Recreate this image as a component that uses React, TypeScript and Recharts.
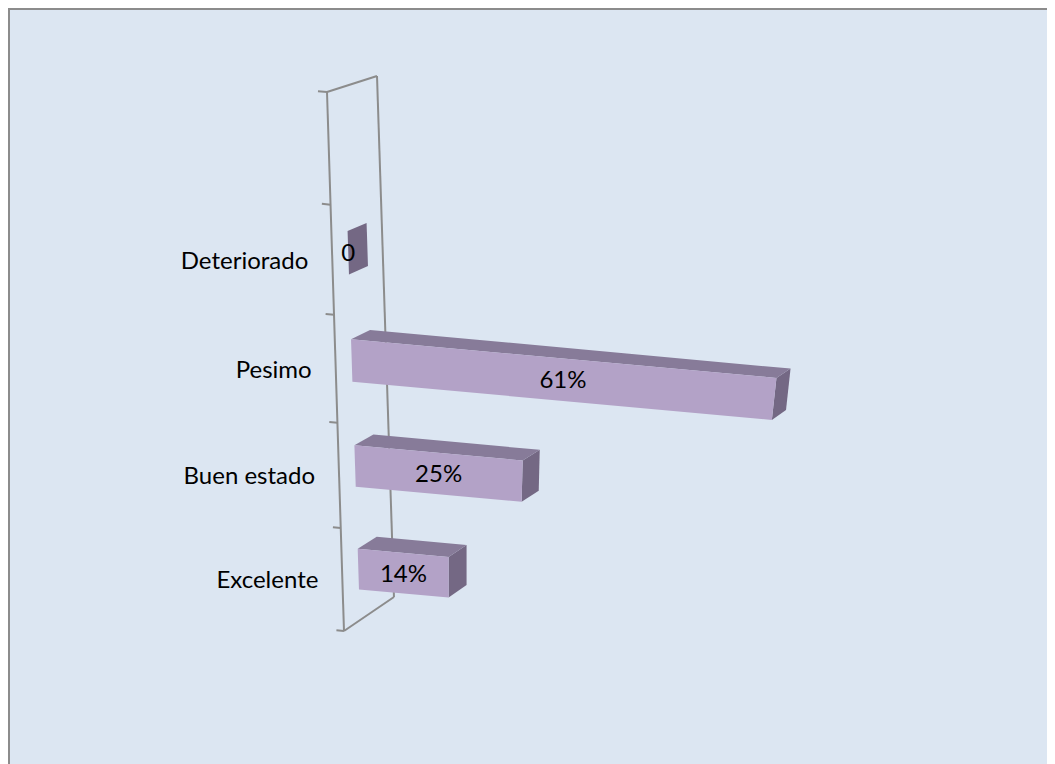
import { BarChart, Bar, XAxis, YAxis } from "recharts";

const categories = ["", "Deteriorado", "Pesimo", "Buen estado", "Excelente"];
const values: (number | null)[] = [null, 0, 61, 25, 14];
const valueLabels = ["", "0", "61%", "25%", "14%"];

const data = categories.map((name, i) => ({
  name,
  value: values[i],
  label: valueLabels[i],
}));

const W = 1045;
const H = 754;
const M = { top: 82, right: 118, bottom: 133, left: 0 };
const AXIS_W = 317;
const LEFT = M.left + AXIS_W;
const TOP = M.top;
const PH = H - M.top - M.bottom;

const FONT = "Lato, 'Noto Sans', sans-serif";
const FRONT = "#b3a2c7";
const TOPFACE = "#877b99";
const SIDE = "#746884";
const WALL = "#8c8c8c";

// flat chart coords -> skewed pseudo 3d view, z = depth (0 front edge of floor, 1 back)
function proj(fx: number, fy: number, z = 0): [number, number] {
  const t = (fy - TOP) / PH;
  const y0 = TOP + PH * t * (1 + 0.056 * (1 - t));
  const r = y0 - TOP;
  const u = (fx - LEFT) * (1 - 0.0003 * r);
  const dx = 50 * (1 - 0.0006 * Math.max(u, 0));
  return [
    LEFT + u + 0.0315 * r + z * dx,
    y0 + 0.09 * u + z * (-16 - 0.0334 * r),
  ];
}

const pts = (...p: [number, number][]) => p.map((q) => q.join(",")).join(" ");

function Bar3D(props: any) {
  const { x, y, width, height, payload } = props;
  if (x == null || y == null || payload?.value == null) return <g />;
  const zf = 0.32;
  const zb = 0.7;
  const x2 = x + width;
  const y2 = y + height;
  const [cx, cy] = proj(x + width / 2, y + height / 2, zf);
  const text = (
    <text
      x={cx}
      y={cy}
      dy="0.36em"
      textAnchor="middle"
      fontFamily={FONT}
      fontSize={24}
      fill="#000"
    >
      {payload.label}
    </text>
  );
  if (width < 1) {
    return (
      <g>
        <polygon
          points={pts(proj(x, y, zf), proj(x, y, zb), proj(x, y2, zb), proj(x, y2, zf))}
          fill={SIDE}
        />
        {text}
      </g>
    );
  }
  return (
    <g>
      <polygon
        points={pts(proj(x2, y, zf), proj(x2, y, zb), proj(x2, y2, zb), proj(x2, y2, zf))}
        fill={SIDE}
      />
      <polygon
        points={pts(proj(x, y, zf), proj(x, y, zb), proj(x2, y, zb), proj(x2, y, zf))}
        fill={TOPFACE}
      />
      <polygon
        points={pts(proj(x, y, zf), proj(x2, y, zf), proj(x2, y2, zf), proj(x, y2, zf))}
        fill={FRONT}
      />
      {text}
    </g>
  );
}

function CategoryTick(props: any) {
  const { y, payload } = props;
  const [lx, ly] = proj(LEFT, y, 0);
  return (
    <text
      x={lx - 24}
      y={ly}
      dy="0.36em"
      textAnchor="end"
      fontFamily={FONT}
      fontSize={24}
      fill="#000"
    >
      {payload.value}
    </text>
  );
}

function Wall() {
  const bottom = TOP + PH;
  const band = PH / categories.length;
  const seg = (a: [number, number], b: [number, number], key: string) => (
    <line key={key} x1={a[0]} y1={a[1]} x2={b[0]} y2={b[1]} stroke={WALL} strokeWidth={2} />
  );
  const ticks = categories.concat([""]).map((_, i) => {
    const fy = TOP + i * band;
    return seg(proj(LEFT - 9, fy, 0), proj(LEFT, fy, 0), "t" + i);
  });
  return (
    <svg width={W} height={H} style={{ position: "absolute", left: 0, top: 0 }}>
      {seg(proj(LEFT, TOP, 0), proj(LEFT, bottom, 0), "front")}
      {seg(proj(LEFT, TOP, 1), proj(LEFT, bottom, 1), "back")}
      {seg(proj(LEFT, TOP, 0), proj(LEFT, TOP, 1), "top")}
      {seg(proj(LEFT, bottom, 0), proj(LEFT, bottom, 1), "bottom")}
      {ticks}
    </svg>
  );
}

export default function App() {
  return (
    <div
      style={{
        position: "relative",
        width: W,
        height: H,
        background: "#dce6f2",
        borderTop: "2px solid #8c8c8c",
        borderLeft: "2px solid #8c8c8c",
      }}
    >
      <style>{`html,body{overflow:hidden}`}</style>
      <Wall />
      <div style={{ position: "absolute", left: 0, top: 0 }}>
        <BarChart width={W} height={H} data={data} layout="vertical" margin={M}>
          <XAxis type="number" domain={[0, 80]} hide />
          <YAxis
            type="category"
            dataKey="name"
            width={AXIS_W}
            axisLine={false}
            tickLine={false}
            interval={0}
            tick={(p: any) => <CategoryTick {...p} />}
          />
          <Bar
            dataKey="value"
            barSize={43}
            isAnimationActive={false}
            shape={(p: any) => <Bar3D {...p} />}
          />
        </BarChart>
      </div>
    </div>
  );
}
